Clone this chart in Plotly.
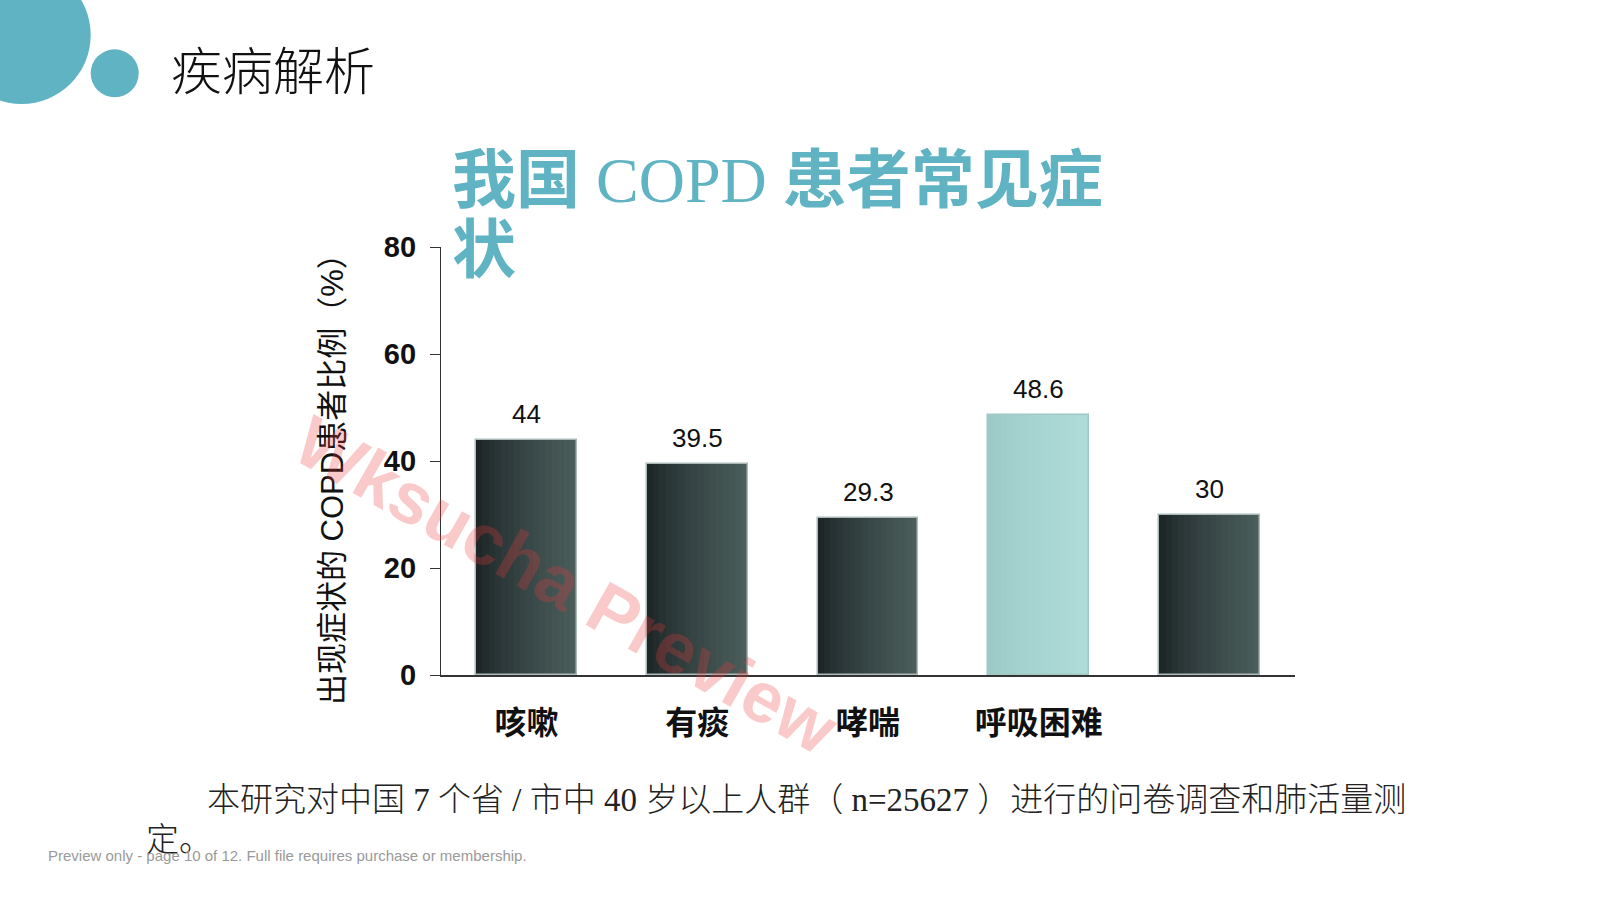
import plotly.graph_objects as go

# ---------------- data ----------------
categories = ["咳嗽", "有痰", "哮喘", "呼吸困难", ""]
values = [44, 39.5, 29.3, 48.6, 30]
highlight = [False, False, False, True, False]
y_ticks = [0, 20, 40, 60, 80]

title_line1 = "<b>我国</b> COPD <b>患者常见症</b>"
title_line2 = "<b>状</b>"
header = "疾病解析"
y_title = "出现症状的 COPD患者比例（%）"
note_line1 = "本研究对中国 7 个省 / 市中 40 岁以上人群（ n=25627 ）进行的问卷调查和肺活量测"
note_line2 = "定。"
footer = "Preview only - page 10 of 12. Full file requires purchase or membership."
watermark = "Wksucha Preview"

# ---------------- layout geometry (pixels) ----------------
FIG_W, FIG_H = 1601, 900
L, R, T, B = 441, 1295, 247, 675
PW, PH = R - L, B - T


def px(x):
    return (x - L) / PW


def py(y):
    return (B - y) / PH


def hex2rgb(h):
    h = h.lstrip("#")
    return tuple(int(h[i:i + 2], 16) for i in (0, 2, 4))


def mix(c1, c2, t):
    a, b = hex2rgb(c1), hex2rgb(c2)
    return "rgb(%d,%d,%d)" % tuple(round(a[k] + (b[k] - a[k]) * t) for k in range(3))


DARK_L, DARK_R = "#1a2224", "#4b5e5c"
LIGHT_L, LIGHT_R = "#9bc9c6", "#afdcd8"
TEAL = "#5fb3c3"

xs = list(range(len(categories)))
BAR_W = 0.59
N = 16
slice_w = BAR_W / N

fig = go.Figure()

# gradient bars built from vertical slices of the same data
for i in range(N):
    t = (i + 0.5) / N
    tt = t ** 0.75
    colors = [mix(LIGHT_L, LIGHT_R, tt) if h else mix(DARK_L, DARK_R, tt) for h in highlight]
    w = slice_w if i == N - 1 else slice_w * 1.6
    fig.add_trace(go.Bar(
        x=xs, y=values,
        width=[w] * len(xs),
        offset=[-BAR_W / 2 + i * slice_w] * len(xs),
        marker=dict(color=colors, line=dict(width=0)),
        hoverinfo="skip", showlegend=False,
    ))

# bar outlines (light edge)
fig.add_trace(go.Bar(
    x=xs, y=values, width=[BAR_W] * len(xs),
    marker=dict(color="rgba(0,0,0,0)",
                line=dict(color=["#9fc9c5" if h else "#a9bab8" for h in highlight], width=1.5)),
    hoverinfo="skip", showlegend=False,
))

annotations = []

# value labels
for x, v in zip(xs, values):
    annotations.append(dict(
        x=x, y=v, xref="x", yref="y", text="{:g}".format(v), showarrow=False,
        yanchor="bottom", xanchor="center", yshift=9,
        font=dict(family="Liberation Sans, Arial, sans-serif", size=26, color="#111111"),
    ))

# y-axis title
annotations.append(dict(
    x=px(332), y=py(472), xref="paper", yref="paper", text=y_title, showarrow=False,
    textangle=-90, xanchor="center", yanchor="middle",
    font=dict(family="Liberation Sans, Noto Sans CJK SC, sans-serif", size=31, color="#111111"),
))

# chart title (two lines)
title_font = dict(family="Liberation Serif, Noto Sans CJK SC, serif", size=64, color=TEAL)
annotations.append(dict(x=px(450), y=py(180), xref="paper", yref="paper", text=title_line1,
                        showarrow=False, xanchor="left", yanchor="middle", font=title_font))
annotations.append(dict(x=px(450), y=py(250), xref="paper", yref="paper", text=title_line2,
                        showarrow=False, xanchor="left", yanchor="middle", font=title_font))

# header
annotations.append(dict(x=px(169), y=py(68), xref="paper", yref="paper", text=header,
                        showarrow=False, xanchor="left", yanchor="middle",
                        font=dict(family="Noto Sans CJK SC, sans-serif", size=51, color="#111111",
                                  weight=300)))

# notes
note_font = dict(family="Liberation Serif, Noto Sans CJK SC, serif", size=33, color="#222222", weight=300)
annotations.append(dict(x=px(205), y=py(800), xref="paper", yref="paper", text=note_line1,
                        showarrow=False, xanchor="left", yanchor="middle", font=note_font))
annotations.append(dict(x=px(144), y=py(840), xref="paper", yref="paper", text=note_line2,
                        showarrow=False, xanchor="left", yanchor="middle", font=note_font))

# footer
annotations.append(dict(x=px(46), y=py(855), xref="paper", yref="paper", text=footer,
                        showarrow=False, xanchor="left", yanchor="middle",
                        font=dict(family="Liberation Sans, Arial, sans-serif", size=15,
                                  color="#999999")))

# watermark
annotations.append(dict(x=px(566), y=py(585), xref="paper", yref="paper", text="<b>" + watermark + "</b>",
                        showarrow=False, xanchor="center", yanchor="middle", textangle=29.5,
                        font=dict(family="Liberation Sans, Arial, sans-serif", size=72,
                                  color="rgba(235,60,60,0.27)")))

shapes = [
    dict(type="circle", xref="paper", yref="paper", layer="below",
         x0=px(21.7 - 69), x1=px(21.7 + 69), y0=py(35 + 69), y1=py(35 - 69),
         fillcolor=TEAL, line=dict(width=0)),
    dict(type="circle", xref="paper", yref="paper", layer="below",
         x0=px(90.7), x1=px(138.7), y0=py(97.3), y1=py(49.3),
         fillcolor=TEAL, line=dict(width=0)),
]

fig.update_layout(
    width=FIG_W, height=FIG_H,
    margin=dict(l=L, r=FIG_W - R, t=T, b=FIG_H - B, pad=0),
    paper_bgcolor="white", plot_bgcolor="white",
    barmode="overlay", bargap=0,
    showlegend=False,
    annotations=annotations,
    shapes=shapes,
    xaxis=dict(
        range=[-0.5, len(categories) - 0.5],
        tickmode="array", tickvals=xs, ticktext=categories,
        showline=True, linecolor="#333333", linewidth=1.5,
        ticks="", showgrid=False, zeroline=False,
        tickfont=dict(family="Noto Sans CJK SC, sans-serif", size=32, color="#111111", weight="bold"),
        ticklabelstandoff=19,
        fixedrange=True,
    ),
    yaxis=dict(
        range=[0, 80],
        tickmode="array", tickvals=y_ticks,
        showline=True, linecolor="#333333", linewidth=1.3,
        ticks="outside", ticklen=10, tickwidth=1.3, tickcolor="#333333",
        showgrid=False, zeroline=False,
        tickfont=dict(family="Liberation Sans, Arial, sans-serif", size=29, color="#111111", weight="bold"),
        ticklabelstandoff=8,
        fixedrange=True,
    ),
)

fig.write_html("out.html", config={"displayModeBar": False})
